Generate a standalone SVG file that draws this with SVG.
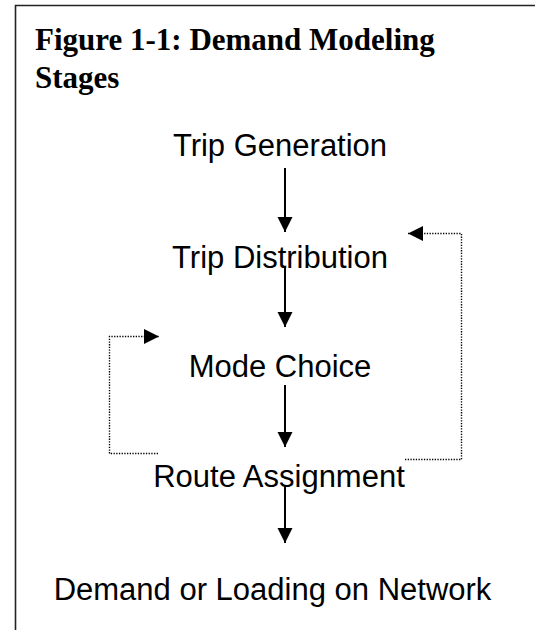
<svg xmlns="http://www.w3.org/2000/svg" width="535" height="630" viewBox="0 0 535 630">
  <style>
    .title { font-family: "Liberation Serif", "Times New Roman", serif; font-weight: bold; font-size: 31px; fill: #000; }
    .stage { font-family: "Liberation Sans", Arial, sans-serif; font-size: 31px; fill: #000; text-anchor: middle; }
    .flow { stroke: #000; stroke-width: 2; fill: none; marker-end: url(#solidHead); }
    .feedback { stroke: #000; stroke-width: 1.4; fill: none; stroke-dasharray: 1.3 1.4; marker-end: url(#dotHead); }
  </style>
  <defs>
    <marker id="solidHead" markerUnits="userSpaceOnUse" markerWidth="16" markerHeight="16" refX="15" refY="7.5" orient="auto" viewBox="0 0 16 16">
      <path d="M0,0 L15,7.5 L0,15 Z" fill="#000"/>
    </marker>
    <marker id="dotHead" markerUnits="userSpaceOnUse" markerWidth="16" markerHeight="16" refX="15" refY="7.5" orient="auto" viewBox="0 0 16 16">
      <path d="M0,0 L15,7.5 L0,15 Z" fill="#000"/>
    </marker>
  </defs>
  <rect width="535" height="630" fill="#fff"/>
  <g id="frame">
    <path d="M15.5,640 V5.5 H545" fill="none" stroke="#222" stroke-width="1.6"/>
  </g>
  <g id="title">
    <text class="title" x="35" y="50">Figure 1-1: Demand Modeling</text>
    <text class="title" x="35" y="88">Stages</text>
  </g>
  <g id="connectors">
    <line class="flow" x1="285" y1="168" x2="285" y2="232"/>
    <line class="flow" x1="285" y1="267" x2="285" y2="327"/>
    <line class="flow" x1="285" y1="385" x2="285" y2="447"/>
    <line class="flow" x1="285" y1="485" x2="285" y2="543"/>
    <path class="feedback" d="M405,459.5 H461.5 V233.5 H408"/>
    <path class="feedback" d="M158,453.5 H109.5 V336.5 H159"/>
  </g>
  <g id="trip-generation"><text class="stage" x="280" y="156">Trip Generation</text></g>
  <g id="trip-distribution"><text class="stage" x="280" y="268">Trip Distribution</text></g>
  <g id="mode-choice"><text class="stage" x="280" y="377">Mode Choice</text></g>
  <g id="route-assignment"><text class="stage" x="279" y="487">Route Assignment</text></g>
  <g id="demand-loading"><text class="stage" x="272.5" y="600">Demand or Loading on Network</text></g>
</svg>
